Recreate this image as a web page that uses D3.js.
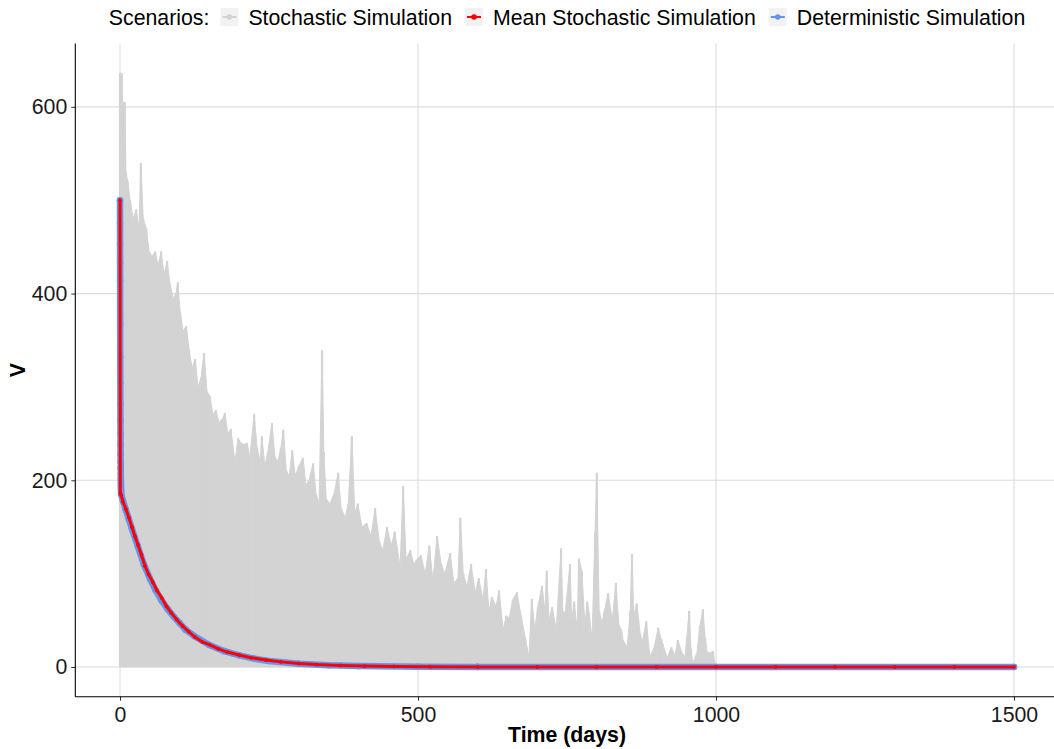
<!DOCTYPE html>
<html lang="en">
<head>
    <title>V over time: stochastic vs deterministic</title>
    <meta charset="UTF-8">
    <script src="https://d3js.org/d3.v7.min.js"></script>
    <style>
      body { margin: 0; background: #fff; }
      svg text { font-family: "Liberation Sans", Arial, Helvetica, sans-serif; }
    </style>
</head>
<body>
<svg id="chart" width="1054" height="749"></svg>

<script>
  // legend entries, in drawing order
  const scenarios = ["Stochastic Simulation", "Mean Stochastic Simulation", "Deterministic Simulation"]
  const xTicks = [0, 500, 1000, 1500]
  const yTicks = [0, 200, 400, 600]

  // upper edge of the grey band of stochastic runs, [day, V]
  const stochasticPeaks = [
    [0,636],[3,636],[4,605],[8,605],[10,530],[13,520],[17,500],[22,480],[27,490],[32,470],
    [35,540],[39,480],[44,470],[49,445],[54,440],[59,445],[64,430],[69,445],[74,420],[79,435],
    [84,410],[89,395],[94,400],[97,412],[101,380],[106,360],[111,365],[116,340],[121,320],[126,330],
    [131,300],[136,310],[141,336],[146,295],[151,290],[156,270],[161,275],[166,262],[171,265],[176,272],
    [181,250],[186,255],[193,220],[198,245],[203,240],[208,238],[213,240],[218,225],[225,271],[230,235],
    [235,220],[238,247],[243,215],[248,230],[255,261],[260,225],[265,220],[270,235],[274,254],[279,210],
    [284,205],[289,232],[294,205],[300,215],[307,224],[312,195],[317,200],[324,218],[329,185],[334,175],
    [339,339],[342,230],[346,180],[352,175],[359,185],[366,208],[371,170],[378,160],[383,175],[389,247],
    [394,165],[399,175],[406,150],[414,154],[421,140],[428,170],[435,135],[441,125],[448,150],[455,130],
    [461,145],[470,107],[475,194],[480,115],[487,125],[493,110],[498,115],[505,120],[512,100],[519,130],
    [525,93],[532,140],[539,110],[545,100],[554,122],[560,90],[567,95],[571,160],[576,100],[582,86],
    [589,110],[596,80],[602,95],[609,72],[614,105],[619,60],[624,75],[631,65],[636,82],[643,40],
    [648,55],[653,52],[659,72],[666,80],[673,55],[680,31],[686,11],[691,73],[696,40],[701,64],
    [708,87],[713,60],[716,103],[720,50],[725,64],[732,40],[740,127],[743,60],[747,58],[755,110],
    [758,50],[762,70],[767,40],[770,116],[775,103],[780,45],[784,70],[787,58],[792,30],[797,144],
    [800,208],[804,60],[809,47],[812,58],[819,79],[826,50],[832,90],[837,45],[841,40],[844,29],
    [851,21],[856,60],[859,121],[862,55],[867,68],[873,35],[876,26],[883,49],[889,11],[896,20],
    [903,42],[908,30],[911,24],[918,10],[925,21],[931,12],[936,29],[943,15],[948,11],[955,60],
    [958,20],[961,4],[968,15],[973,44],[978,62],[982,30],[985,16],[990,15],[995,17],[998,4],[1000,0]
  ]

  // mean of the stochastic runs, [day, V]
  const meanStochastic = [
    [0,500],[0.5,186],[2,184],[5,177],[10,169],[15,160],[20,150],[25,140],[30,131],[36,120],
    [42,108],[48,99],[55,91],[62,82],[70,74],[78,65],[86,58],[95,51],[105,44],[115,38],
    [126,32],[138,27],[150,24],[165,19.5],[180,16],[200,12.8],[220,10],[245,7.5],[270,5.5],[300,3.8],
    [330,2.6],[370,1.6],[410,1],[460,0.6],[520,0.3],[600,0.1],[700,0],[800,0],[900,0],[1000,0],
    [1100,0],[1200,0],[1300,0],[1400,0],[1500,0]
  ]

  // deterministic solution, [day, V]
  const deterministic = [
    [0,500],[0.05,475],[0.1,453],[0.15,433],[0.2,414],[0.3,368],[0.4,332],[0.5,304],[0.6,282],[0.7,264],
    [0.8,250],[0.9,238],[1.0,228],[1.1,220],[1.2,213],[1.3,207],[1.4,202],[1.5,198],[1.6,194],[1.7,191],
    [1.8,188],[2,185],[5,178],[10,168],[15,158],[20,148],[30,129],[40,110],[50,95],[60,82],
    [70,71],[80,62],[90,54],[100,47],[110,40],[125,33],[150,23.5],[175,17],[200,12.5],[225,9],
    [250,6.5],[300,3.5],[350,1.8],[400,1],[500,0.3],[600,0.1],[800,0],[1000,0],[1500,0]
  ]

  const colors = { stoch: "#d3d3d3", mean: "#ff0000", det: "#6495ed" }

  const svg = d3.select("#chart")
  const panel = { left: 75.3, right: 1058.7, top: 43.4, bottom: 696.7 }

  // ggplot-like 5% padding around the data
  let x = d3.scaleLinear().domain([-75, 1575]).range([panel.left, panel.right])
  let y = d3.scaleLinear().domain([-31.8, 668]).range([panel.bottom, panel.top])

  svg.append("clipPath").attr("id", "clip")
    .append("rect")
    .attr("x", panel.left).attr("y", panel.top)
    .attr("width", panel.right - panel.left).attr("height", panel.bottom - panel.top)

  // grid
  let grid = svg.append("g").attr("class", "grid")
  grid.selectAll("line.gx").data(xTicks).enter().append("line")
    .attr("x1", d => x(d)).attr("x2", d => x(d))
    .attr("y1", panel.top).attr("y2", panel.bottom)
    .attr("stroke", "#dcdcdc").attr("stroke-width", 1.1)
  grid.selectAll("line.gy").data(yTicks).enter().append("line")
    .attr("x1", panel.left).attr("x2", panel.right)
    .attr("y1", d => y(d)).attr("y2", d => y(d))
    .attr("stroke", "#dcdcdc").attr("stroke-width", 1.1)

  let plot = svg.append("g").attr("clip-path", "url(#clip)")

  // stochastic runs: dense grey band from 0 up to the jagged envelope,
  // with a thin spike at every read peak
  let band = d3.area()
    .x(d => x(d[0])).y0(y(0)).y1(d => y(d[1]))
  plot.append("path").datum(stochasticPeaks)
    .attr("d", band)
    .attr("fill", colors.stoch)
    .attr("stroke", colors.stoch).attr("stroke-width", 1)
  plot.selectAll("line.spike").data(stochasticPeaks).enter().append("line")
    .attr("class", "spike")
    .attr("x1", d => x(d[0])).attr("x2", d => x(d[0]))
    .attr("y1", y(0)).attr("y2", d => y(d[1]))
    .attr("stroke", colors.stoch).attr("stroke-width", 2.2)

  let line = d3.line().x(d => x(d[0])).y(d => y(d[1]))

  // deterministic: thick blue line + dots
  plot.append("path").datum(deterministic)
    .attr("d", line)
    .attr("fill", "none").attr("stroke", colors.det)
    .attr("stroke-width", 6.5).attr("stroke-linejoin", "round").attr("stroke-linecap", "round")
  plot.selectAll("circle.det").data(deterministic).enter().append("circle")
    .attr("class", "det")
    .attr("cx", d => x(d[0])).attr("cy", d => y(d[1])).attr("r", 3.3)
    .attr("fill", colors.det)

  // mean of stochastic runs: red line + dots
  plot.append("path").datum(meanStochastic)
    .attr("d", line)
    .attr("fill", "none").attr("stroke", colors.mean)
    .attr("stroke-width", 3).attr("stroke-linejoin", "round")
  plot.selectAll("circle.mean").data(meanStochastic).enter().append("circle")
    .attr("class", "mean")
    .attr("cx", d => x(d[0])).attr("cy", d => y(d[1])).attr("r", 1.9)
    .attr("fill", colors.mean)

  // axes
  let xAxis = d3.axisBottom(x).tickValues(xTicks).tickFormat(d3.format("d"))
    .tickSize(4).tickSizeOuter(0).tickPadding(5)
  let xAxisG = svg.append("g").attr("transform", `translate(0,${panel.bottom})`).call(xAxis)
  let yAxis = d3.axisLeft(y).tickValues(yTicks).tickFormat(d3.format("d"))
    .tickSize(4).tickSizeOuter(0).tickPadding(4)
  let yAxisG = svg.append("g").attr("transform", `translate(${panel.left},0)`).call(yAxis)

  ;[xAxisG, yAxisG].forEach(g => {
    g.select(".domain").remove()
    g.selectAll(".tick line").attr("stroke", "#333")
    g.selectAll(".tick text").attr("fill", "#1a1a1a").style("font-size", "21.3px")
  })
  xAxisG.selectAll(".tick text").attr("dy", "0.75em")

  svg.append("line")
    .attr("x1", panel.left).attr("x2", panel.left)
    .attr("y1", panel.top).attr("y2", panel.bottom)
    .attr("stroke", "#000").attr("stroke-width", 1.1)
  svg.append("line")
    .attr("x1", panel.left).attr("x2", 1054)
    .attr("y1", panel.bottom).attr("y2", panel.bottom)
    .attr("stroke", "#000").attr("stroke-width", 1.1)

  // axis titles
  svg.append("text")
    .attr("x", (panel.left + panel.right) / 2).attr("y", 742)
    .attr("text-anchor", "middle")
    .style("font-size", "21.3px").style("font-weight", "bold")
    .text("Time (days)")
  svg.append("text")
    .attr("transform", `translate(25,${(panel.top + panel.bottom) / 2}) rotate(-90)`)
    .attr("text-anchor", "middle")
    .style("font-size", "21.3px").style("font-weight", "bold")
    .text("V")

  // legend on top, centred over the panel
  let legend = svg.append("g")
  let cursor = 0
  let title = legend.append("text").attr("x", 0).attr("y", 25)
    .style("font-size", "21.3px").text("Scenarios:")
  cursor = title.node().getComputedTextLength() + 11

  const keyColors = [colors.stoch, colors.mean, colors.det]
  scenarios.forEach((name, i) => {
    let key = legend.append("g").attr("transform", `translate(${cursor},8)`)
    key.append("rect").attr("width", 18).attr("height", 18).attr("fill", "#f2f2f2")
    key.append("line").attr("x1", 2).attr("x2", 16).attr("y1", 9).attr("y2", 9)
      .attr("stroke", keyColors[i]).attr("stroke-width", 2)
    key.append("circle").attr("cx", 9).attr("cy", 9).attr("r", 2.8).attr("fill", keyColors[i])
    cursor += 18 + 10
    let t = legend.append("text").attr("x", cursor).attr("y", 25)
      .style("font-size", "21.3px").text(name)
    cursor += t.node().getComputedTextLength() + 13
  })
  let legendWidth = cursor - 13
  legend.attr("transform", `translate(${(panel.left + panel.right) / 2 - legendWidth / 2},0)`)
</script>
</body>
</html>
